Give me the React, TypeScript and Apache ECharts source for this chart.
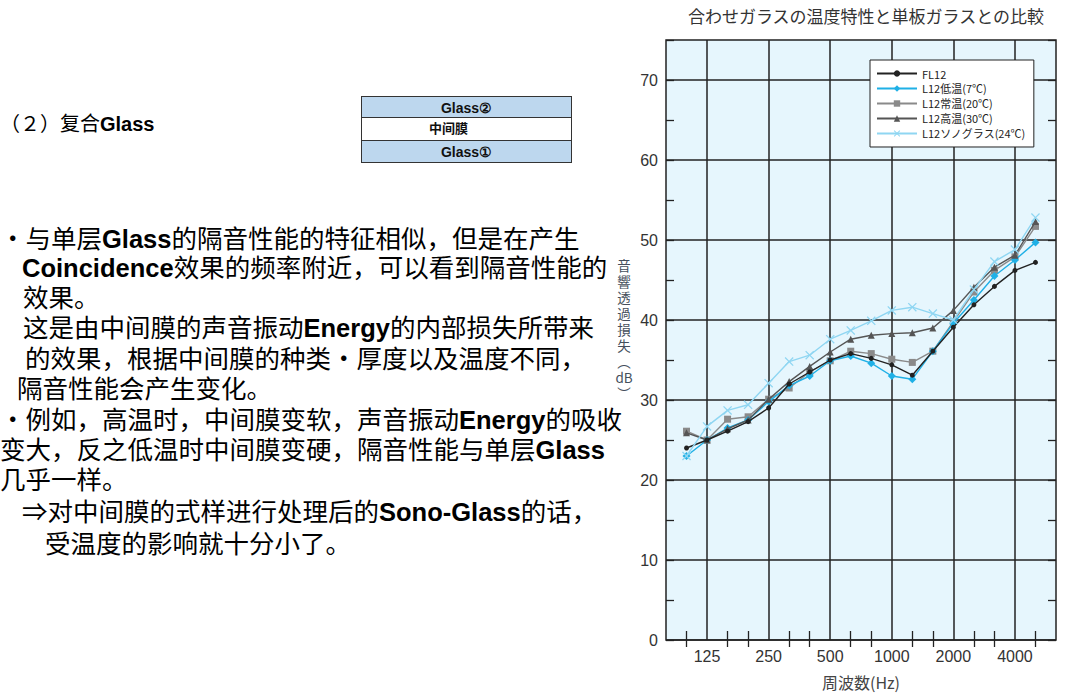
import React, { useEffect, useRef } from "react";
import * as echarts from "echarts";

// ---- data ----
const categories = ["80", "100", "125", "160", "200", "250", "315", "400", "500", "630", "800", "1000", "1250", "1600", "2000", "2500", "3150", "4000", "5000", "6300"];
const freqs = ["100", "125", "160", "200", "250", "315", "400", "500", "630", "800", "1000", "1250", "1600", "2000", "2500", "3150", "4000", "5000"];
const majorLabels = ["125", "250", "500", "1000", "2000", "4000"];
const yTickLabels = [0, 10, 20, 30, 40, 50, 60, 70];

const fl12 = [24.0, 25.0, 26.1, 27.3, 29.0, 32.0, 33.5, 35.0, 35.8, 35.2, 34.4, 33.1, 36.1, 39.1, 41.9, 44.2, 46.2, 47.2];
const l12Low = [23.0, 25.0, 26.5, 27.5, 29.8, 31.8, 33.0, 34.9, 35.5, 34.6, 33.0, 32.6, 36.1, 39.6, 42.5, 45.5, 47.5, 49.7];
const l12Normal = [26.1, 25.0, 27.6, 27.9, 30.1, 31.5, 33.5, 34.9, 36.1, 35.8, 35.1, 34.7, 36.1, 39.8, 43.5, 46.2, 47.9, 51.7];
const l12High = [25.9, 25.0, 26.4, 27.5, 30.1, 32.3, 34.2, 36.0, 37.6, 38.1, 38.3, 38.4, 39.0, 41.2, 44.1, 46.6, 48.1, 52.3];
const l12Sono = [23.0, 26.7, 28.7, 29.4, 32.1, 34.8, 35.6, 37.6, 38.7, 39.9, 41.2, 41.6, 40.8, 40.0, 43.8, 47.3, 48.8, 52.8];

const seriesNames = ["FL12", "L12低温(7℃)", "L12常温(20℃)", "L12高温(30℃)", "L12ソノグラス(24℃)"];
const yNameChars = ["音", "響", "透", "過", "損", "失", "︵", "dB", "︶"];

const XPATH = "path://M1,0L5,4L9,0L10,1L6,5L10,9L9,10L5,6L1,10L0,9L4,5L0,1Z";

const CJK = '"Noto Sans CJK SC", "Noto Sans CJK JP", sans-serif';
const CJKJP = '"Noto Sans CJK JP", "Noto Sans CJK SC", sans-serif';
const LAT = '"Liberation Sans", Arial, sans-serif';

type Part = { t: string; b?: boolean };
const lines: { x: number; y: number; parts: Part[] }[] = [
  { x: 0, y: 237, parts: [{ t: "・与单层" }, { t: "Glass", b: true }, { t: "的隔音性能的特征相似，但是在产生" }] },
  { x: 22, y: 266, parts: [{ t: "Coincidence", b: true }, { t: "效果的频率附近，可以看到隔音性能的" }] },
  { x: 23, y: 296, parts: [{ t: "效果。" }] },
  { x: 23, y: 326, parts: [{ t: "这是由中间膜的声音振动" }, { t: "Energy", b: true }, { t: "的内部损失所带来" }] },
  { x: 25, y: 357, parts: [{ t: "的效果，根据中间膜的种类・厚度以及温度不同，" }] },
  { x: 17, y: 387, parts: [{ t: "隔音性能会产生变化。" }] },
  { x: 0, y: 418, parts: [{ t: "・例如，高温时，中间膜变软，声音振动" }, { t: "Energy", b: true }, { t: "的吸收" }] },
  { x: 0, y: 448, parts: [{ t: "变大，反之低温时中间膜变硬，隔音性能与单层" }, { t: "Glass", b: true }] },
  { x: 0, y: 478, parts: [{ t: "几乎一样。" }] },
  { x: 22, y: 510, parts: [{ t: "⇒对中间膜的式样进行处理后的" }, { t: "Sono-Glass", b: true }, { t: "的话，" }] },
  { x: 45, y: 542, parts: [{ t: "受温度的影响就十分小了。" }] },
];

function App() {
  const ref = useRef<HTMLDivElement>(null);
  useEffect(() => {
    if (!ref.current) return;
    const chart = echarts.init(ref.current, undefined, { renderer: "svg" });
    const isMajor = (_i: number, v: string) => majorLabels.indexOf(v) >= 0;
    const isMinor = (i: number, v: string) => i > 0 && i < categories.length - 1 && majorLabels.indexOf(v) < 0;
    const mk = (vals: number[]) => freqs.map((f, i) => [f, vals[i]]);
    const lineW = 1.4;
    const option: any = {
      animation: false,
      title: {
        text: "合わせガラスの温度特性と単板ガラスとの比較",
        left: 861,
        top: 2,
        textAlign: "center",
        textStyle: { fontSize: 17, fontWeight: "normal", color: "#333", fontFamily: CJKJP },
      },
      legend: {
        left: 870,
        top: 60,
        orient: "vertical",
        itemWidth: 40,
        itemHeight: 8,
        itemGap: 4,
        padding: [8, 8, 8, 6],
        backgroundColor: "#fff",
        borderColor: "#222",
        borderWidth: 1,
        borderRadius: 0,
        textStyle: { fontSize: 11, color: "#222", fontFamily: CJKJP },
        data: seriesNames,
      },
      grid: {
        left: 666,
        top: 40,
        width: 390,
        height: 600,
        show: true,
        backgroundColor: "#e6f6fd",
        borderColor: "#222",
        borderWidth: 1.5,
      },
      xAxis: [
        {
          type: "category",
          data: categories,
          boundaryGap: false,
          position: "bottom",
          axisLine: { show: false },
          axisTick: { show: true, inside: true, length: 9, interval: isMinor, lineStyle: { color: "#222", width: 1.3 } },
          axisLabel: { interval: isMajor, color: "#333", fontSize: 16, margin: 8, fontFamily: LAT },
          splitLine: { show: true, interval: isMajor, lineStyle: { color: "#222", width: 1.5 } },
          name: "周波数(Hz)",
          nameLocation: "middle",
          nameGap: 34,
          nameTextStyle: { fontSize: 16, color: "#444", fontFamily: CJKJP },
        },
        {
          type: "category",
          data: categories,
          boundaryGap: false,
          position: "top",
          axisLine: { show: false },
          axisTick: { show: true, inside: true, length: 7, interval: isMinor, lineStyle: { color: "#222", width: 1.3 } },
          axisLabel: { show: false },
          splitLine: { show: false },
        },
      ],
      yAxis: [
        {
          type: "value",
          min: 0,
          max: 75,
          interval: 5,
          position: "left",
          axisLine: { show: false },
          axisTick: { show: true, inside: true, length: 8, lineStyle: { color: "#222", width: 1.3 } },
          axisLabel: {
            color: "#333",
            fontSize: 16,
            margin: 8,
            fontFamily: LAT,
            formatter: (v: number) => (yTickLabels.indexOf(v) >= 0 ? String(v) : ""),
          },
          splitLine: { show: true, lineStyle: { color: ["#222", "rgba(0,0,0,0)"], width: 1.5 } },
        },
        {
          type: "value",
          min: 0,
          max: 75,
          interval: 5,
          position: "right",
          axisLine: { show: false },
          axisTick: { show: true, inside: true, length: 8, lineStyle: { color: "#222", width: 1.3 } },
          axisLabel: { show: false },
          splitLine: { show: false },
        },
      ],
      graphic: yNameChars.map((c, i) => ({
        type: "text",
        x: 624,
        y: 265 + i * 16,
        style: {
          text: c,
          fontSize: 13.5,
          fill: "#454f5c",
          fontFamily: CJKJP,
          align: "center",
          verticalAlign: "middle",
        },
      })),
      series: [
        { name: seriesNames[0], type: "line", data: mk(fl12), symbol: "circle", symbolSize: 5, color: "#222", lineStyle: { width: lineW, color: "#222" }, itemStyle: { color: "#222" }, z: 5 },
        { name: seriesNames[1], type: "line", data: mk(l12Low), symbol: "diamond", symbolSize: 8, color: "#1fb0e6", lineStyle: { width: lineW, color: "#1fb0e6" }, itemStyle: { color: "#1fb0e6" }, z: 3 },
        { name: seriesNames[2], type: "line", data: mk(l12Normal), symbol: "rect", symbolSize: 7, color: "#8a8a8a", lineStyle: { width: lineW, color: "#8a8a8a" }, itemStyle: { color: "#8a8a8a" }, z: 2 },
        { name: seriesNames[3], type: "line", data: mk(l12High), symbol: "triangle", symbolSize: 7, color: "#555", lineStyle: { width: lineW, color: "#555" }, itemStyle: { color: "#555" }, z: 4 },
        { name: seriesNames[4], type: "line", data: mk(l12Sono), symbol: XPATH, symbolSize: 9, color: "#8fd6f2", lineStyle: { width: lineW, color: "#8fd6f2" }, itemStyle: { color: "#8fd6f2" }, z: 6 },
      ],
    };
    chart.setOption(option);
    return () => chart.dispose();
  }, []);

  return (
    <div style={{ position: "fixed", left: 0, top: 0, width: 1080, height: 698, background: "#fff", overflow: "hidden" }}>
      <div ref={ref} style={{ position: "absolute", left: 0, top: 0, width: 1080, height: 698 }} />
      <div style={{ position: "absolute", left: 0, top: 108, height: 30, lineHeight: "30px", fontSize: 20, fontFamily: CJK, color: "#000", whiteSpace: "nowrap" }}>
        （２）复合<span style={{ fontFamily: LAT, fontWeight: "bold" }}>Glass</span>
      </div>
      <div style={{ position: "absolute", left: 361, top: 96, width: 211, height: 67, fontFamily: LAT, fontWeight: "bold", fontSize: 14, color: "#111" }}>
        <div style={{ height: 22, lineHeight: "22px", background: "#bdd7ee", border: "1px solid #333", textAlign: "center", boxSizing: "border-box" }}>Glass②</div>
        <div style={{ height: 22, lineHeight: "20px", background: "#fff", borderLeft: "1px solid #333", borderRight: "1px solid #333", boxSizing: "border-box", paddingLeft: 67, fontFamily: CJK, fontSize: 13 }}>中间膜</div>
        <div style={{ height: 23, lineHeight: "22px", background: "#bdd7ee", border: "1px solid #333", textAlign: "center", boxSizing: "border-box" }}>Glass①</div>
      </div>
      {lines.map((ln, k) => (
        <div key={k} style={{ position: "absolute", left: ln.x, top: ln.y - 15, height: 30, lineHeight: "30px", fontSize: 25.5, fontFamily: CJK, color: "#000", whiteSpace: "nowrap" }}>
          {ln.parts.map((p, j) => (
            <span key={j} style={p.b ? { fontFamily: LAT, fontWeight: "bold" } : undefined}>{p.t}</span>
          ))}
        </div>
      ))}
    </div>
  );
}

export default App;
